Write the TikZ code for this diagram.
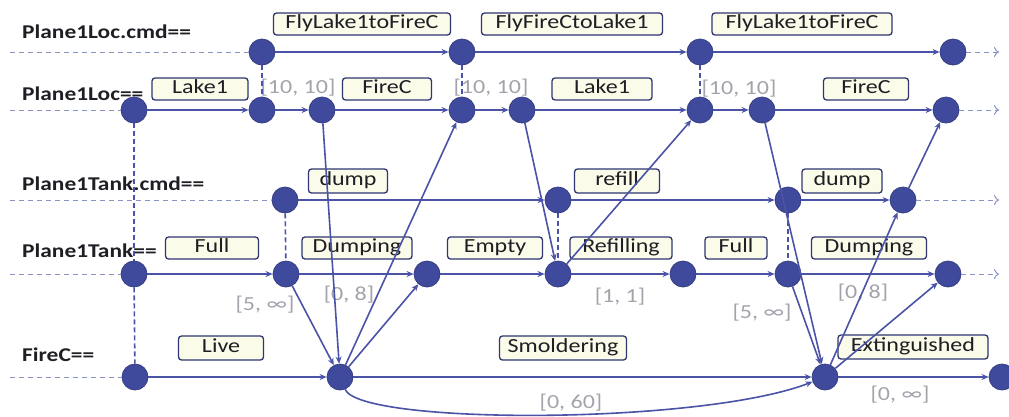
\documentclass[tikz,border=0pt]{standalone}
\usepackage{fontspec}
\setmainfont[FakeStretch=1.2]{Carlito}
\usetikzlibrary{arrows.meta}
\definecolor{evfill}{HTML}{3F4A9C}
\definecolor{evedge}{HTML}{4A53A6}
\definecolor{leadin}{HTML}{8C93C9}
\definecolor{boxline}{HTML}{2E3570}
\definecolor{boxfill}{HTML}{FBFBEA}
\definecolor{bound}{HTML}{A3A3AC}
\definecolor{ink}{HTML}{1E1E24}

\begin{document}
\begin{tikzpicture}[x=1pt,y=-1pt,
  ev/.style={circle, fill=evfill, draw=evfill!85!black, line width=0.8pt, minimum size=26pt, inner sep=0pt},
  flow/.style={draw=evedge, line width=1.6pt, -{Stealth[length=7pt,width=6pt]}},
  sync/.style={draw=evedge, line width=1.6pt, dash pattern=on 5pt off 3pt},
  lead/.style={draw=leadin, line width=1pt, dash pattern=on 5pt off 4pt},
  tail/.style={draw=leadin, line width=1pt, dash pattern=on 5pt off 4pt, -{To[length=5pt,width=10pt]}},
  state/.style={draw=boxline, fill=boxfill, line width=1.3pt, rounded corners=3pt,
    minimum height=22pt, inner sep=0pt, text height=13pt, text depth=4pt, text=ink,
    font=\fontsize{20}{22}\selectfont},
  hdr/.style={anchor=base west, text=ink, font=\bfseries\fontsize{19.5}{20}\selectfont, inner sep=0pt},
  bnd/.style={text=bound, font=\fontsize{20}{20}\selectfont, inner sep=0pt}
]
\useasboundingbox (0,0) rectangle (1009,416);

% row headers
\node[hdr] (h1) at (22,38) {Plane1Loc.cmd==};
\node[hdr] (h2) at (22,100) {Plane1Loc==};
\node[hdr] (h3) at (22,190) {Plane1Tank.cmd==};
\node[hdr] (h4) at (22,257) {Plane1Tank==};
\node[hdr] (h5) at (22,361) {FireC==};

% state boxes
\node[state, minimum width=177pt] (s11) at (362,24) {FlyLake1toFireC};
\node[state, minimum width=181pt] (s12) at (572,24) {FlyFireCtoLake1};
\node[state, minimum width=180pt] (s13) at (802,24) {FlyLake1toFireC};
\node[state, minimum width=96pt] (s21) at (200,89) {Lake1};
\node[state, minimum width=89pt] (s22) at (387,89) {FireC};
\node[state, minimum width=100pt] (s23) at (602,89) {Lake1};
\node[state, minimum width=85pt] (s24) at (866,89) {FireC};
\node[state, minimum width=79pt, minimum height=24pt] (s31) at (348,181) {dump};
\node[state, minimum width=85pt, minimum height=24pt] (s32) at (617,181) {refill};
\node[state, minimum width=80pt, minimum height=24pt] (s33) at (842,181) {dump};
\node[state, minimum width=93pt] (s41) at (212,248) {Full};
\node[state, minimum width=110pt] (s42) at (357,248) {Dumping};
\node[state, minimum width=95pt] (s43) at (495,248) {Empty};
\node[state, minimum width=102pt] (s44) at (621,248) {Refilling};
\node[state, minimum width=62pt] (s45) at (736,248) {Full};
\node[state, minimum width=115pt] (s46) at (869,248) {Dumping};
\node[state, minimum width=85pt, minimum height=24pt] (s51) at (221,348) {Live};
\node[state, minimum width=127pt, minimum height=24pt] (s52) at (563,348) {Smoldering};
\node[state, minimum width=150pt, minimum height=24pt] (s53) at (913,347) {Extinguished};

% temporal bounds
\node[bnd] (t1) at (298,88) {[10, 10]};
\node[bnd] (t2) at (491,88) {[10, 10]};
\node[bnd] (t3) at (739,89) {[10, 10]};
\node[bnd] (t4) at (265,305) {[5, ∞]};
\node[bnd] (t5) at (762,313) {[5, ∞]};
\node[bnd] (t6) at (349,295) {[0, 8]};
\node[bnd] (t7) at (863,293) {[0, 8]};
\node[bnd] (t8) at (620,297) {[1, 1]};
\node[bnd] (t9) at (571,403) {[0, 60]};
\node[bnd] (t10) at (900,395) {[0, ∞]};

% events
\node[ev] (a1) at (262,52) {};
\node[ev] (a2) at (462,52) {};
\node[ev] (a3) at (700,52) {};
\node[ev] (a4) at (953,52) {};
\node[ev] (b1) at (134,110) {};
\node[ev] (b2) at (262,110) {};
\node[ev] (b3) at (322,110) {};
\node[ev] (b4) at (462,110) {};
\node[ev] (b5) at (522,110) {};
\node[ev] (b6) at (700,110) {};
\node[ev] (b7) at (762,110) {};
\node[ev] (b8) at (946,110) {};
\node[ev] (c1) at (285,200) {};
\node[ev] (c2) at (558,200) {};
\node[ev] (c3) at (788,200) {};
\node[ev] (c4) at (903,200) {};
\node[ev] (d1) at (134,274) {};
\node[ev] (d2) at (286,274) {};
\node[ev] (d3) at (427,274) {};
\node[ev] (d4) at (558,274) {};
\node[ev] (d5) at (683,274) {};
\node[ev] (d6) at (788,274) {};
\node[ev] (d7) at (948,274) {};
\node[ev] (e1) at (135,377) {};
\node[ev] (e2) at (340,377) {};
\node[ev] (e3) at (825,377) {};
\node[ev] (e4) at (1002,377) {};

% open ends of each timeline
\coordinate (l1) at (10,52);
\coordinate (l2) at (10,110);
\coordinate (l3) at (10,200);
\coordinate (l4) at (10,274);
\coordinate (l5) at (10,377);
\coordinate (r1) at (999,52);
\coordinate (r2) at (999,110);
\coordinate (r3) at (999,200);
\coordinate (r4) at (999,274);

\draw[lead] (l1) -- (a1);
\draw[lead] (l2) -- (b1);
\draw[lead] (l3) -- (c1);
\draw[lead] (l4) -- (d1);
\draw[lead] (l5) -- (e1);
\draw[tail] (a4) -- (r1);
\draw[tail] (b8) -- (r2);
\draw[tail] (c4) -- (r3);
\draw[tail] (d7) -- (r4);

% synchronisation links
\draw[sync] (b1) -- (d1);
\draw[sync] (d1) -- (e1);
\draw[sync] (a1) -- (b2);
\draw[sync] (a2) -- (b4);
\draw[sync] (a3) -- (b6);
\draw[sync] (c1) -- (d2);
\draw[sync] (c2) -- (d4);
\draw[sync] (c3) -- (d6);

% timeline flows
\draw[flow] (a1) -- (a2);
\draw[flow] (a2) -- (a3);
\draw[flow] (a3) -- (a4);
\draw[flow] (b1) -- (b2);
\draw[flow] (b2) -- (b3);
\draw[flow] (b3) -- (b4);
\draw[flow] (b4) -- (b5);
\draw[flow] (b5) -- (b6);
\draw[flow] (b6) -- (b7);
\draw[flow] (b7) -- (b8);
\draw[flow] (c1) -- (c2);
\draw[flow] (c2) -- (c3);
\draw[flow] (c3) -- (c4);
\draw[flow] (d1) -- (d2);
\draw[flow] (d2) -- (d3);
\draw[flow] (d3) -- (d4);
\draw[flow] (d4) -- (d5);
\draw[flow] (d5) -- (d6);
\draw[flow] (d6) -- (d7);
\draw[flow] (e1) -- (e2);
\draw[flow] (e2) -- (e3);
\draw[flow] (e3) -- (e4);

% cross-timeline constraints
\draw[flow] (b3) -- (e2);
\draw[flow] (d2) -- (e2);
\draw[flow] (e2) -- (d3);
\draw[flow] (e2) -- (b4);
\draw[flow] (b5) -- (d4);
\draw[flow] (d4) -- (b6);
\draw[flow] (b7) -- (e3);
\draw[flow] (d6) -- (e3);
\draw[flow] (e3) -- (c4);
\draw[flow] (c4) -- (b8);
\draw[flow] (e3) -- (d7);
\draw[flow] (e2) .. controls (360,425) and (700,425) .. (e3);
\end{tikzpicture}
\end{document}
